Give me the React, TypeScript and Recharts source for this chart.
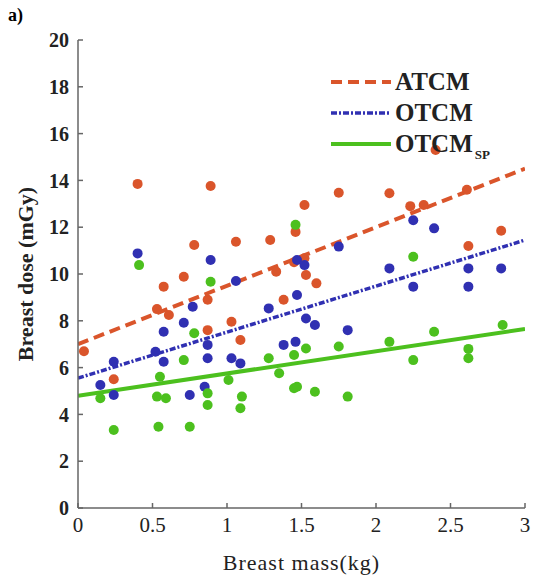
import { ComposedChart, Scatter, Line, XAxis, YAxis, Legend } from 'recharts';

// breast mass (kg) vs breast dose (mGy)
const atcmMass = [0.04, 0.24, 0.4, 0.53, 0.575, 0.61, 0.71, 0.78, 0.87, 0.87, 0.89, 1.03, 1.06, 1.09, 1.29, 1.33, 1.38, 1.45, 1.46, 1.52, 1.52, 1.53, 1.6, 1.75, 2.09, 2.23, 2.32, 2.4, 2.61, 2.62, 2.84];
const atcmDose = [6.7, 5.5, 13.85, 8.5, 9.46, 8.25, 9.88, 11.24, 8.9, 7.6, 13.76, 7.96, 11.38, 7.18, 11.45, 10.1, 8.9, 10.5, 11.8, 12.95, 10.67, 9.96, 9.6, 13.47, 13.45, 12.9, 12.95, 15.3, 13.6, 11.2, 11.85];

const otcmMass = [0.15, 0.24, 0.24, 0.4, 0.52, 0.575, 0.575, 0.71, 0.75, 0.77, 0.85, 0.87, 0.87, 0.89, 1.03, 1.06, 1.09, 1.28, 1.38, 1.46, 1.47, 1.47, 1.52, 1.53, 1.59, 1.75, 1.81, 2.09, 2.25, 2.25, 2.39, 2.62, 2.62, 2.84];
const otcmDose = [5.26, 4.83, 6.25, 10.88, 6.68, 7.53, 6.25, 7.92, 4.83, 8.6, 5.18, 6.97, 6.4, 10.6, 6.4, 9.7, 6.18, 8.53, 6.97, 7.1, 9.1, 10.6, 10.38, 8.1, 7.82, 11.17, 7.6, 10.24, 12.3, 9.46, 11.95, 10.24, 9.46, 10.24];

const spMass = [0.15, 0.24, 0.41, 0.53, 0.54, 0.55, 0.59, 0.71, 0.75, 0.78, 0.87, 0.87, 0.89, 1.01, 1.09, 1.1, 1.28, 1.35, 1.45, 1.45, 1.46, 1.47, 1.53, 1.59, 1.75, 1.81, 2.09, 2.25, 2.25, 2.39, 2.62, 2.62, 2.85];
const spDose = [4.69, 3.33, 10.38, 4.76, 3.47, 5.61, 4.69, 6.32, 3.47, 7.47, 4.9, 4.4, 9.67, 5.47, 4.26, 4.76, 6.4, 5.76, 6.54, 5.12, 12.1, 5.18, 6.82, 4.97, 6.9, 4.76, 7.1, 10.74, 6.32, 7.53, 6.4, 6.8, 7.82];

// linear fits, evaluated at the ends of the mass axis
const fitMass = [0, 3];
const atcmFit = [7.0, 14.5];
const otcmFit = [5.55, 11.45];
const spFit = [4.8, 7.65];

const xTicks = [0, 0.5, 1, 1.5, 2, 2.5, 3];
const yTicks = [0, 2, 4, 6, 8, 10, 12, 14, 16, 18, 20];

const RED = '#da552b';
const BLUE = '#3030b2';
const GREEN = '#4cc01e';
const AXIS = '#666';
const FONT = '"Liberation Serif", "Times New Roman", serif';

const toPoints = (m: number[], d: number[]) => m.map((x, i) => ({ m: x, v: d[i] }));

const dot = (color: string) => (p: any) => <circle cx={p.cx} cy={p.cy} r={5} fill={color} />;

const legendItems = [
  { label: 'ATCM', sub: '', color: RED, dash: '11 6', width: 4 },
  { label: 'OTCM', sub: '', color: BLUE, dash: '6 2 2 2', width: 3.5 },
  { label: 'OTCM', sub: 'SP', color: GREEN, dash: '', width: 4 },
];

const renderLegend = () => (
  <div style={{ fontFamily: FONT, fontWeight: 'bold', fontSize: 25, color: '#222', lineHeight: 1 }}>
    {legendItems.map((it, i) => (
      <div key={i} style={{ display: 'flex', alignItems: 'center', height: 31 }}>
        <svg width={62} height={10} style={{ marginRight: 3 }}>
          <line x1={1} y1={5} x2={61} y2={5} stroke={it.color} strokeWidth={it.width} strokeDasharray={it.dash || undefined} />
        </svg>
        <span>{it.label}</span>
        {it.sub && <span style={{ fontSize: 13, position: 'relative', top: 11, marginLeft: 2 }}>{it.sub}</span>}
      </div>
    ))}
  </div>
);

export default function App() {
  const atcm = toPoints(atcmMass, atcmDose);
  const otcm = toPoints(otcmMass, otcmDose);
  const sp = toPoints(spMass, spDose);
  const atcmLine = toPoints(fitMass, atcmFit);
  const otcmLine = toPoints(fitMass, otcmFit);
  const spLine = toPoints(fitMass, spFit);

  return (
    <div style={{ position: 'absolute', left: 0, top: 0, width: 534, height: 580, background: '#fff' }}>
      <div style={{ position: 'absolute', left: 8, top: 5, fontFamily: FONT, fontWeight: 'bold', fontSize: 18 }}>a)</div>
      <ComposedChart width={534} height={580} margin={{ top: 40, right: 9, left: 28, bottom: 22 }}>
        <XAxis
          dataKey="m"
          type="number"
          domain={[0, 3]}
          ticks={xTicks}
          allowDataOverflow
          stroke={AXIS}
          strokeWidth={1.5}
          tickSize={-5}
          tickMargin={14}
          height={50}
          tick={{ fill: '#222', fontFamily: FONT, fontSize: 21 }}
          label={{
            content: (p: any) => (
              <text x={p.viewBox.x + p.viewBox.width / 2} y={570} textAnchor="middle" fontFamily={FONT} fontSize={22} letterSpacing={1} fill="#222">
                Breast mass(kg)
              </text>
            ),
          }}
        />
        <XAxis
          xAxisId="top"
          orientation="top"
          type="number"
          domain={[0, 3]}
          ticks={xTicks}
          height={0}
          stroke={AXIS}
          strokeWidth={1.5}
          tickSize={-5}
          tickFormatter={() => ''}
        />
        <YAxis
          dataKey="v"
          type="number"
          domain={[0, 20]}
          ticks={yTicks}
          allowDataOverflow
          stroke={AXIS}
          strokeWidth={1.5}
          tickSize={-5}
          tickMargin={14}
          width={50}
          tick={{ fill: '#222', fontFamily: FONT, fontSize: 20, fontWeight: 'bold' }}
          label={{
            content: (p: any) => (
              <text x={0} y={0} transform={`translate(33, ${p.viewBox.y + p.viewBox.height / 2}) rotate(-90)`} textAnchor="middle" fontFamily={FONT} fontSize={22} fontWeight="bold" fill="#222">
                Breast dose (mGy)
              </text>
            ),
          }}
        />
        <YAxis
          yAxisId="right"
          orientation="right"
          type="number"
          domain={[0, 20]}
          ticks={yTicks}
          width={0}
          stroke={AXIS}
          strokeWidth={1.5}
          tickSize={-5}
          tickFormatter={() => ''}
        />
        <Legend
          layout="vertical"
          align="center"
          verticalAlign="middle"
          content={renderLegend}
          wrapperStyle={{ position: 'absolute', top: 66, left: 330, width: 190 }}
        />
        <Scatter name="ATCM pts" data={atcm} shape={dot(RED)} legendType="none" isAnimationActive={false} />
        <Scatter name="OTCM pts" data={otcm} shape={dot(BLUE)} legendType="none" isAnimationActive={false} />
        <Scatter name="SP pts" data={sp} shape={dot(GREEN)} legendType="none" isAnimationActive={false} />
        <Line data={atcmLine} dataKey="v" stroke={RED} strokeWidth={4} strokeDasharray="11 6" dot={false} legendType="none" isAnimationActive={false} />
        <Line data={otcmLine} dataKey="v" stroke={BLUE} strokeWidth={3.5} strokeDasharray="6 2 2 2" dot={false} legendType="none" isAnimationActive={false} />
        <Line data={spLine} dataKey="v" stroke={GREEN} strokeWidth={4} dot={false} legendType="none" isAnimationActive={false} />
      </ComposedChart>
    </div>
  );
}
